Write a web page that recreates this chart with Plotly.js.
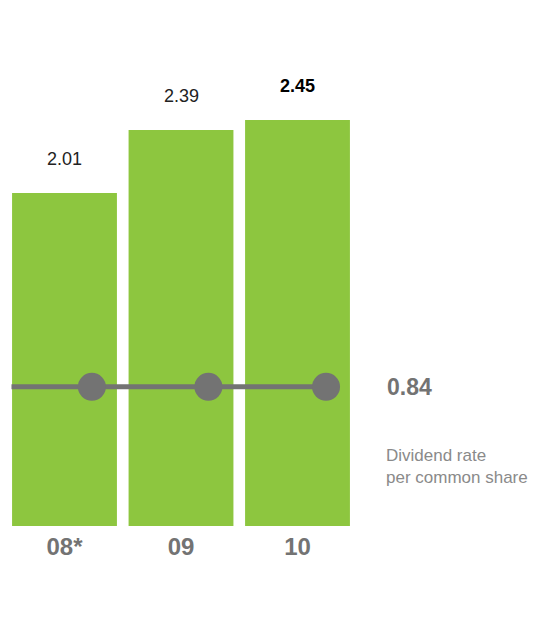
<!DOCTYPE html>
<html><head><meta charset="utf-8">
<script src="https://cdn.plot.ly/plotly-3.0.1.min.js"></script>
<style>body{margin:0;background:#fff}#chart{width:536px;height:636px}</style>
</head><body><div id="chart"></div>
<script>
const categories = ["08*", "09", "10"];
const netIncome = [2.01, 2.39, 2.45];
const dividendRate = [0.84, 0.84, 0.84];
const valueLabels = ["2.01", "2.39", "2.45"];
const rateLabel = "0.84";
const rateCaption = "Dividend rate<br>per common share";

const xi = categories.map((c, i) => i);
const dotOffset = 0.235;
const green = "#8DC63F", grey = "#737373";
const font = "Liberation Sans, Arial, sans-serif";

const traces = [
  {type: "bar", x: xi, y: netIncome, width: 0.9, marker: {color: green}, hoverinfo: "none"},
  {type: "scatter", mode: "lines", x: [xi[0] - 0.455, xi[xi.length-1] + dotOffset + 0.01],
   y: [dividendRate[0], dividendRate[dividendRate.length-1]],
   line: {color: grey, width: 5}, hoverinfo: "none"},
  {type: "scatter", mode: "markers", x: xi.map(v => v + dotOffset + (v === 2 ? 0.01 : 0)), y: dividendRate,
   marker: {color: grey, size: 28}, hoverinfo: "none"}
];

const annotations = xi.map((x, i) => ({
  x: x, y: netIncome[i], xref: "x", yref: "y", yshift: 34,
  text: i === xi.length - 1 ? "<b>" + valueLabels[i] + "</b>" : valueLabels[i],
  showarrow: false, font: {family: font, size: 18, color: i === xi.length - 1 ? "#000" : "#222"}
}));
annotations.push({x: 385, y: dividendRate[0], xref: "x domain", yref: "y",
  text: "<b>" + rateLabel + "</b>", showarrow: false, xanchor: "left",
  font: {family: font, size: 23, color: grey}});
annotations.push({x: 384, y: dividendRate[0], xref: "x domain", yref: "y", yshift: -80,
  text: rateCaption, showarrow: false, xanchor: "left", align: "left",
  font: {family: font, size: 17, color: "#8a8a8a"}});

const pxPerX = 116.5, pxPerY = 165.7, x0 = -64.5 / pxPerX;
annotations.forEach(a => { if (a.xref === "x domain") { a.xref = "x"; a.x = x0 + a.x / pxPerX; } });

const layout = {
  width: 536, height: 636, margin: {l: 0, r: 0, t: 0, b: 110},
  paper_bgcolor: "#fff", plot_bgcolor: "#fff", showlegend: false,
  xaxis: {range: [x0, x0 + 536 / pxPerX], tickvals: xi,
    ticktext: categories.map(c => "<b>" + c + "</b>"), showgrid: false, zeroline: false,
    showline: false, ticks: "", ticklabelstandoff: 4,
    tickfont: {family: font, size: 24, color: grey}, fixedrange: true},
  yaxis: {range: [0, 526 / pxPerY], visible: false, fixedrange: true},
  annotations: annotations
};
Plotly.newPlot("chart", traces, layout, {displayModeBar: false, staticPlot: true});
</script></body></html>
